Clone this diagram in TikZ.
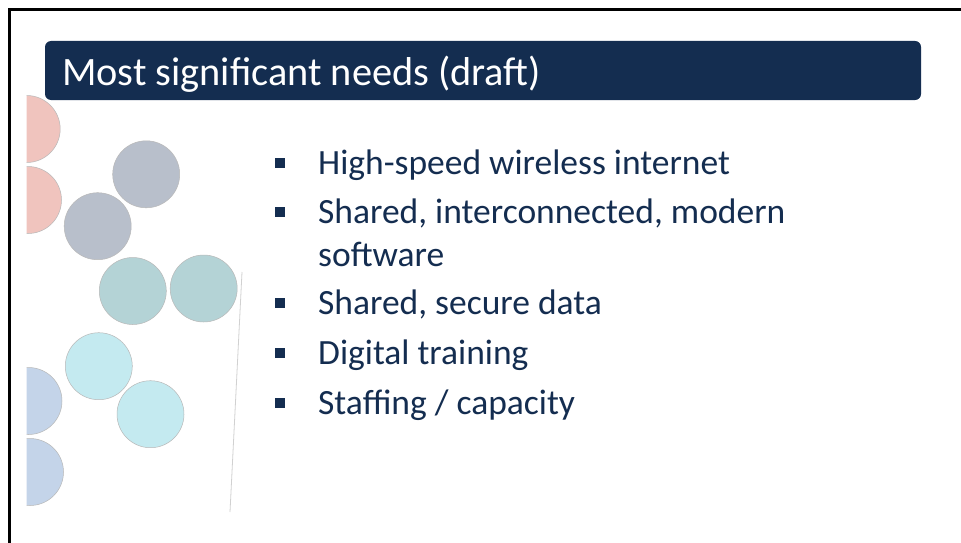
\documentclass[tikz,border=0pt]{standalone}
\usepackage{fontspec}
\setmainfont{Carlito}
\definecolor{barblue}{RGB}{20,45,80}
\definecolor{pinkc}{RGB}{240,196,190}
\definecolor{grayc}{RGB}{184,191,203}
\definecolor{tealc}{RGB}{180,211,214}
\definecolor{cyanc}{RGB}{196,234,240}
\definecolor{bluec}{RGB}{196,212,233}

\begin{document}
\begin{tikzpicture}[x=1pt,y=-1pt]
\tikzstyle{every node}+=[inner sep=0pt]
\tikzstyle{dot}=[circle,minimum size=67pt,draw=black!28,line width=0.5pt]
\tikzstyle{item}=[anchor=base west,text=barblue,font=\fontsize{35.5}{43}\selectfont,align=left]
\tikzstyle{sq}=[fill=barblue,minimum size=10pt]
\useasboundingbox (0,0) rectangle (961,543);
\fill [white] (0,0) rectangle (961,543);
\draw [black,line width=3pt] (9.5,543) -- (9.5,9.5) -- (961,9.5);
\node [fill=barblue,rounded corners=6pt,minimum width=876pt,minimum height=59pt] (bar) at (483,70.5) {};
\node [anchor=base west,text=white,font=\fontsize{40.3}{48}\selectfont] (title) at (62,85) {Most significant needs (draft)};
\begin{scope}
\clip (26.7,0) rectangle (300,543);
\node [dot,fill=pinkc] (p1) at (26.7,129) {};
\node [dot,fill=pinkc] (p2) at (28,200) {};
\node [dot,fill=bluec] (u1) at (28.5,401) {};
\node [dot,fill=bluec] (u2) at (30,472) {};
\end{scope}
\node [dot,fill=grayc] (g1) at (146.2,174.3) {};
\node [dot,fill=grayc] (g2) at (97.7,226.2) {};
\node [dot,fill=tealc] (t1) at (132.8,291) {};
\node [dot,fill=tealc] (t2) at (203.7,288.5) {};
\node [dot,fill=cyanc] (c1) at (98.8,366.2) {};
\node [dot,fill=cyanc] (c2) at (150.5,414.2) {};
\coordinate (ltop) at (242,272);
\coordinate (lbot) at (230,512);
\draw [black!18,line width=0.8pt] (ltop) -- (lbot);
\node [item] (i1) at (318,174) {High-speed wireless internet};
\node [item] (i2) at (318,266) {Shared, interconnected, modern\\software};
\node [item] (i3) at (318,314) {Shared, secure data};
\node [item] (i4) at (318,364) {Digital training};
\node [item] (i5) at (318,414) {Staffing / capacity};
\node [sq] (s1) at (280,163) {};
\node [sq] (s2) at (280,212) {};
\node [sq] (s3) at (280,303) {};
\node [sq] (s4) at (280,353) {};
\node [sq] (s5) at (280,403) {};
\end{tikzpicture}
\end{document}
